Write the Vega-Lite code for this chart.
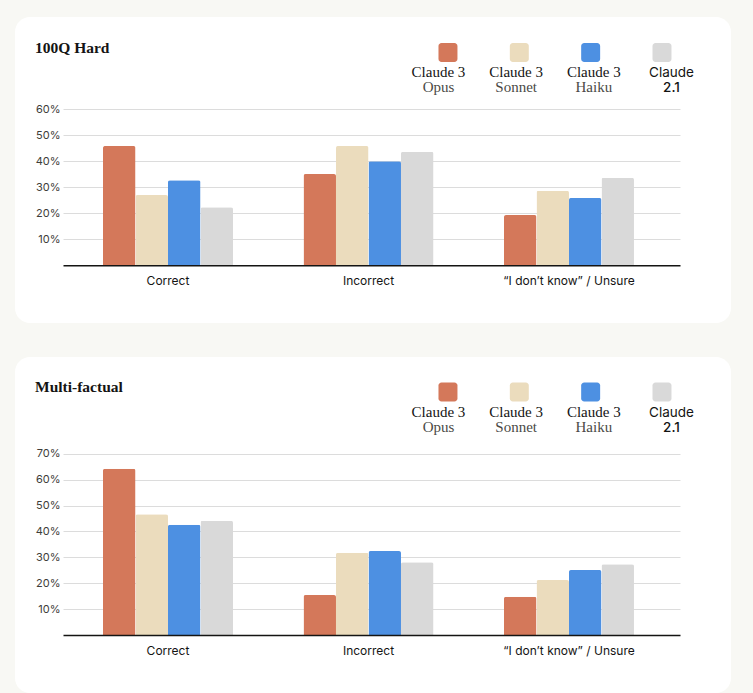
{
  "$schema": "https://vega.github.io/schema/vega-lite/v6.json",
  "background": "#f8f8f4",
  "padding": {"left": 15, "top": 17, "right": 22, "bottom": 0},
  "spacing": 34,
  "config": {
    "view": {"fill": "white", "stroke": null, "cornerRadius": 15},
    "axis": {"labelFont": "Inter", "titleFont": "Inter"}
  },
  "datasets": {
    "hard": [
      {"category": "Correct", "model": "Claude 3 Opus", "value": 45.9},
      {"category": "Correct", "model": "Claude 3 Sonnet", "value": 27.0},
      {"category": "Correct", "model": "Claude 3 Haiku", "value": 32.7},
      {"category": "Correct", "model": "Claude 2.1", "value": 22.3},
      {"category": "Incorrect", "model": "Claude 3 Opus", "value": 35.1},
      {"category": "Incorrect", "model": "Claude 3 Sonnet", "value": 45.9},
      {"category": "Incorrect", "model": "Claude 3 Haiku", "value": 40.0},
      {"category": "Incorrect", "model": "Claude 2.1", "value": 43.7},
      {"category": "“I don’t know” / Unsure", "model": "Claude 3 Opus", "value": 19.3},
      {"category": "“I don’t know” / Unsure", "model": "Claude 3 Sonnet", "value": 28.7},
      {"category": "“I don’t know” / Unsure", "model": "Claude 3 Haiku", "value": 25.9},
      {"category": "“I don’t know” / Unsure", "model": "Claude 2.1", "value": 33.7}
    ],
    "multi": [
      {"category": "Correct", "model": "Claude 3 Opus", "value": 64.2},
      {"category": "Correct", "model": "Claude 3 Sonnet", "value": 46.6},
      {"category": "Correct", "model": "Claude 3 Haiku", "value": 42.6},
      {"category": "Correct", "model": "Claude 2.1", "value": 44.1},
      {"category": "Incorrect", "model": "Claude 3 Opus", "value": 15.4},
      {"category": "Incorrect", "model": "Claude 3 Sonnet", "value": 31.8},
      {"category": "Incorrect", "model": "Claude 3 Haiku", "value": 32.4},
      {"category": "Incorrect", "model": "Claude 2.1", "value": 28.1},
      {"category": "“I don’t know” / Unsure", "model": "Claude 3 Opus", "value": 14.8},
      {"category": "“I don’t know” / Unsure", "model": "Claude 3 Sonnet", "value": 21.2},
      {"category": "“I don’t know” / Unsure", "model": "Claude 3 Haiku", "value": 25.1},
      {"category": "“I don’t know” / Unsure", "model": "Claude 2.1", "value": 27.3}
    ],
    "legend": [
      {"model": "Claude 3 Opus", "line1": "Claude 3", "line2": "Opus"},
      {"model": "Claude 3 Sonnet", "line1": "Claude 3", "line2": "Sonnet"},
      {"model": "Claude 3 Haiku", "line1": "Claude 3", "line2": "Haiku"},
      {"model": "Claude 2.1", "line1": "Claude", "line2": "2.1"}
    ]
  },
  "vconcat": [
    {
      "width": 716,
      "height": 306,
      "title": {"text": "100Q Hard", "anchor": "start", "frame": "group", "offset": -51, "dx": 20, "baseline": "alphabetic", "font": "Liberation Serif", "fontSize": 15.5, "fontWeight": 600, "color": "#141413"},
      "resolve": {"scale": {"xOffset": "independent"}},
      "layer": [
        {
          "data": {"name": "hard"},
          "mark": {"type": "bar", "cornerRadiusTopLeft": 2, "cornerRadiusTopRight": 2},
          "encoding": {
            "x": {"field": "category", "type": "nominal", "title": null,
              "scale": {"domain": ["Correct", "Incorrect", "“I don’t know” / Unsure"], "range": [48, 665], "paddingInner": 0.3516, "paddingOuter": 0.2145, "align": 0.465},
              "axis": {"orient": "bottom", "offset": -57.7, "domainColor": "#141413", "domainWidth": 1.5, "ticks": false, "labelPadding": 10, "labelFontSize": 12, "labelColor": "#141413", "labelAngle": 0, "grid": false, "zindex": 1}},
            "xOffset": {"field": "model", "type": "nominal", "scale": {"domain": ["Claude 3 Opus", "Claude 3 Sonnet", "Claude 3 Haiku", "Claude 2.1"]}},
            "y": {"field": "value", "type": "quantitative", "title": null,
              "scale": {"domain": [0, 60], "range": [248.3, 92.3], "nice": false},
              "axis": {"values": [10, 20, 30, 40, 50, 60], "labelExpr": "datum.value + '%'", "offset": -48, "domain": false, "ticks": false, "labelPadding": 3, "labelFontSize": 11, "labelColor": "#3d3d3a", "grid": true, "gridColor": "#dcdcdc", "gridWidth": 1}},
            "color": {"field": "model", "type": "nominal", "legend": null,
              "scale": {"domain": ["Claude 3 Opus", "Claude 3 Sonnet", "Claude 3 Haiku", "Claude 2.1"], "range": ["#d4785a", "#ebdcbd", "#4d90e2", "#d9d9d9"]}}
          }
        },
        {
          "data": {"name": "legend"},
          "mark": {"type": "bar", "cornerRadius": 3},
          "encoding": {
            "x": {"datum": "“I don’t know” / Unsure"},
            "xOffset": {"field": "model", "type": "nominal", "scale": {"domain": ["Claude 3 Opus", "Claude 3 Sonnet", "Claude 3 Haiku", "Claude 2.1"], "range": [-65.5, 167.5], "paddingInner": 0.734, "paddingOuter": 0}},
            "y": {"datum": 85.5},
            "y2": {"datum": 78.2},
            "color": {"field": "model", "type": "nominal", "legend": null}
          }
        },
        {
          "data": {"name": "legend"},
          "transform": [{"filter": "datum.model != 'Claude 2.1'"}],
          "mark": {"type": "text", "font": "Liberation Serif", "fontSize": 15, "color": "#141413", "baseline": "alphabetic", "align": "center"},
          "encoding": {
            "x": {"datum": "“I don’t know” / Unsure"},
            "xOffset": {"field": "model", "type": "nominal", "scale": {"domain": ["Claude 3 Opus", "Claude 3 Sonnet", "Claude 3 Haiku", "Claude 2.1"], "range": [-65.5, 167.5], "paddingInner": 0.734, "paddingOuter": 0}},
            "y": {"datum": 72.5},
            "text": {"field": "line1"}
          }
        },
        {
          "data": {"name": "legend"},
          "transform": [{"filter": "datum.model != 'Claude 2.1'"}],
          "mark": {"type": "text", "font": "Liberation Serif", "fontSize": 15, "color": "#4a4a46", "baseline": "alphabetic", "align": "center"},
          "encoding": {
            "x": {"datum": "“I don’t know” / Unsure"},
            "xOffset": {"field": "model", "type": "nominal", "scale": {"domain": ["Claude 3 Opus", "Claude 3 Sonnet", "Claude 3 Haiku", "Claude 2.1"], "range": [-65.5, 167.5], "paddingInner": 0.734, "paddingOuter": 0}},
            "y": {"datum": 66.65},
            "text": {"field": "line2"}
          }
        },
        {
          "data": {"name": "legend"},
          "transform": [{"filter": "datum.model == 'Claude 2.1'"}],
          "mark": {"type": "text", "font": "Inter", "fontSize": 13.5, "color": "#141413", "baseline": "alphabetic", "align": "center"},
          "encoding": {
            "x": {"datum": "“I don’t know” / Unsure"},
            "xOffset": {"field": "model", "type": "nominal", "scale": {"domain": ["Claude 3 Opus", "Claude 3 Sonnet", "Claude 3 Haiku", "Claude 2.1"], "range": [-65.5, 167.5], "paddingInner": 0.734, "paddingOuter": 0}},
            "y": {"datum": 72.5},
            "text": {"field": "line1"}
          }
        },
        {
          "data": {"name": "legend"},
          "transform": [{"filter": "datum.model == 'Claude 2.1'"}],
          "mark": {"type": "text", "font": "Inter", "fontSize": 13.5, "fontWeight": 500, "color": "#141413", "baseline": "alphabetic", "align": "center"},
          "encoding": {
            "x": {"datum": "“I don’t know” / Unsure"},
            "xOffset": {"field": "model", "type": "nominal", "scale": {"domain": ["Claude 3 Opus", "Claude 3 Sonnet", "Claude 3 Haiku", "Claude 2.1"], "range": [-65.5, 167.5], "paddingInner": 0.734, "paddingOuter": 0}},
            "y": {"datum": 66.65},
            "text": {"field": "line2"}
          }
        }
      ]
    },
    {
      "width": 716,
      "height": 336,
      "title": {"text": "Multi-factual", "anchor": "start", "frame": "group", "offset": -50, "dx": 20, "baseline": "alphabetic", "font": "Liberation Serif", "fontSize": 15.5, "fontWeight": 600, "color": "#141413"},
      "resolve": {"scale": {"xOffset": "independent"}},
      "layer": [
        {
          "data": {"name": "multi"},
          "mark": {"type": "bar", "cornerRadiusTopLeft": 2, "cornerRadiusTopRight": 2},
          "encoding": {
            "x": {"field": "category", "type": "nominal", "title": null,
              "scale": {"domain": ["Correct", "Incorrect", "“I don’t know” / Unsure"], "range": [48, 665], "paddingInner": 0.3516, "paddingOuter": 0.2145, "align": 0.465},
              "axis": {"orient": "bottom", "offset": -58, "domainColor": "#141413", "domainWidth": 1.5, "ticks": false, "labelPadding": 10, "labelFontSize": 12, "labelColor": "#141413", "labelAngle": 0, "grid": false, "zindex": 1}},
            "xOffset": {"field": "model", "type": "nominal", "scale": {"domain": ["Claude 3 Opus", "Claude 3 Sonnet", "Claude 3 Haiku", "Claude 2.1"]}},
            "y": {"field": "value", "type": "quantitative", "title": null,
              "scale": {"domain": [0, 70], "range": [278, 96.7], "nice": false},
              "axis": {"values": [10, 20, 30, 40, 50, 60, 70], "labelExpr": "datum.value + '%'", "offset": -48, "domain": false, "ticks": false, "labelPadding": 3, "labelFontSize": 11, "labelColor": "#3d3d3a", "grid": true, "gridColor": "#dcdcdc", "gridWidth": 1}},
            "color": {"field": "model", "type": "nominal", "legend": null,
              "scale": {"domain": ["Claude 3 Opus", "Claude 3 Sonnet", "Claude 3 Haiku", "Claude 2.1"], "range": ["#d4785a", "#ebdcbd", "#4d90e2", "#d9d9d9"]}}
          }
        },
        {
          "data": {"name": "legend"},
          "mark": {"type": "bar", "cornerRadius": 3},
          "encoding": {
            "x": {"datum": "“I don’t know” / Unsure"},
            "xOffset": {"field": "model", "type": "nominal", "scale": {"domain": ["Claude 3 Opus", "Claude 3 Sonnet", "Claude 3 Haiku", "Claude 2.1"], "range": [-65.5, 167.5], "paddingInner": 0.734, "paddingOuter": 0}},
            "y": {"datum": 97.5},
            "y2": {"datum": 90.15},
            "color": {"field": "model", "type": "nominal", "legend": null}
          }
        },
        {
          "data": {"name": "legend"},
          "transform": [{"filter": "datum.model != 'Claude 2.1'"}],
          "mark": {"type": "text", "font": "Liberation Serif", "fontSize": 15, "color": "#141413", "baseline": "alphabetic", "align": "center"},
          "encoding": {
            "x": {"datum": "“I don’t know” / Unsure"},
            "xOffset": {"field": "model", "type": "nominal", "scale": {"domain": ["Claude 3 Opus", "Claude 3 Sonnet", "Claude 3 Haiku", "Claude 2.1"], "range": [-65.5, 167.5], "paddingInner": 0.734, "paddingOuter": 0}},
            "y": {"datum": 84.3},
            "text": {"field": "line1"}
          }
        },
        {
          "data": {"name": "legend"},
          "transform": [{"filter": "datum.model != 'Claude 2.1'"}],
          "mark": {"type": "text", "font": "Liberation Serif", "fontSize": 15, "color": "#4a4a46", "baseline": "alphabetic", "align": "center"},
          "encoding": {
            "x": {"datum": "“I don’t know” / Unsure"},
            "xOffset": {"field": "model", "type": "nominal", "scale": {"domain": ["Claude 3 Opus", "Claude 3 Sonnet", "Claude 3 Haiku", "Claude 2.1"], "range": [-65.5, 167.5], "paddingInner": 0.734, "paddingOuter": 0}},
            "y": {"datum": 78.4},
            "text": {"field": "line2"}
          }
        },
        {
          "data": {"name": "legend"},
          "transform": [{"filter": "datum.model == 'Claude 2.1'"}],
          "mark": {"type": "text", "font": "Inter", "fontSize": 13.5, "color": "#141413", "baseline": "alphabetic", "align": "center"},
          "encoding": {
            "x": {"datum": "“I don’t know” / Unsure"},
            "xOffset": {"field": "model", "type": "nominal", "scale": {"domain": ["Claude 3 Opus", "Claude 3 Sonnet", "Claude 3 Haiku", "Claude 2.1"], "range": [-65.5, 167.5], "paddingInner": 0.734, "paddingOuter": 0}},
            "y": {"datum": 84.3},
            "text": {"field": "line1"}
          }
        },
        {
          "data": {"name": "legend"},
          "transform": [{"filter": "datum.model == 'Claude 2.1'"}],
          "mark": {"type": "text", "font": "Inter", "fontSize": 13.5, "fontWeight": 500, "color": "#141413", "baseline": "alphabetic", "align": "center"},
          "encoding": {
            "x": {"datum": "“I don’t know” / Unsure"},
            "xOffset": {"field": "model", "type": "nominal", "scale": {"domain": ["Claude 3 Opus", "Claude 3 Sonnet", "Claude 3 Haiku", "Claude 2.1"], "range": [-65.5, 167.5], "paddingInner": 0.734, "paddingOuter": 0}},
            "y": {"datum": 78.4},
            "text": {"field": "line2"}
          }
        }
      ]
    }
  ]
}
